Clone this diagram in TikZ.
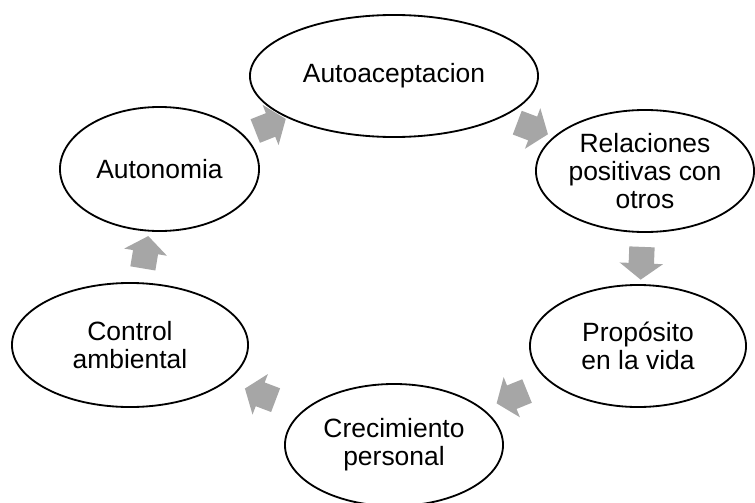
\documentclass[tikz,border=0pt]{standalone}
\usepackage{fontspec}
\setmainfont{Liberation Sans}
\usetikzlibrary{shapes.geometric,shapes.arrows}
\definecolor{arrowgray}{RGB}{166,166,166}
\tikzstyle{bubble}=[ellipse,draw=black,line width=1.3pt,fill=white,inner sep=0pt]
\tikzstyle{bubbletext}=[align=center,font=\fontsize{18.8}{20}\selectfont,inner sep=0pt]
\tikzstyle{cyclearrow}=[single arrow,fill=arrowgray,draw=none,inner xsep=0pt,inner ysep=0.31cm,minimum height=0.82cm,minimum width=1.07cm,single arrow head extend=0.225cm,single arrow tip angle=106]

\begin{document}
\begin{tikzpicture}[x=0.025cm,y=0.025cm]
    \useasboundingbox (0,0) rectangle (755,502);
    % First we draw the six bubbles
    \foreach \pos/\name/\bw/\bh/\txt in {{(394,426)/autoacept/7.2/3.05/Autoaceptacion}, {(645,331)/relaciones/5.45/3.05/{Relaciones\\positivas con\\otros}}, {(638,156)/proposito/5.4/3.05/{Propósito\\en la vida}}, {(394,57)/crecimiento/5.45/3.05/{Crecimiento\\personal}}, {(130,157)/control/5.9/3.1/{Control\\ambiental}}, {(159.5,333)/autonomia/4.975/3.1/Autonomia}}
        \node[bubble,minimum width=\bw cm,minimum height=\bh cm,label={[bubbletext]center:\txt}] (\name) at \pos {};

    % Then the block arrows between them
    \foreach \source/\dest in {autonomia/autoacept, autoacept/relaciones, relaciones/proposito, proposito/crecimiento, crecimiento/control, control/autonomia}
        \path (\source) -- node[cyclearrow,sloped,allow upside down] {} (\dest);
\end{tikzpicture}
\end{document}
